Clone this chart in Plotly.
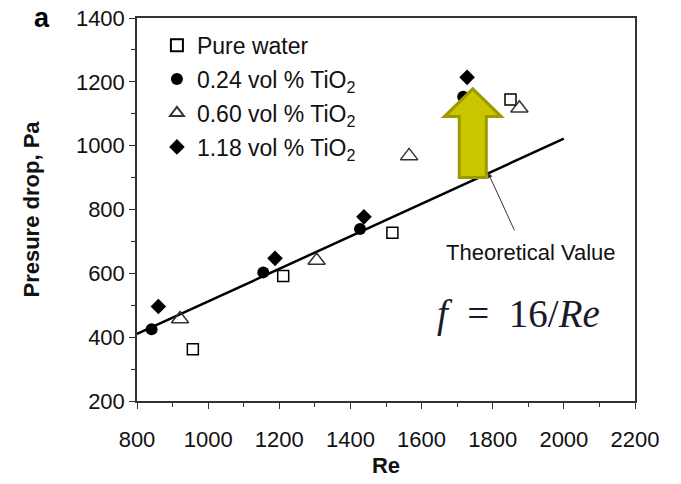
import plotly.graph_objects as go

# ---- data ----
re_water = [957, 1211, 1518, 1850]
dp_water = [362, 592, 727, 1145]

re_024 = [841, 1155, 1427, 1717]
dp_024 = [425, 603, 739, 1153]

re_060 = [921, 1305, 1565, 1875]
dp_060 = [457, 640, 968, 1117]

re_118 = [860, 1188, 1438, 1728]
dp_118 = [496, 647, 777, 1214]

theory_re = [800, 2000]
theory_dp = [410, 1022]

x_ticks = [800, 1000, 1200, 1400, 1600, 1800, 2000, 2200]
y_ticks = [200, 400, 600, 800, 1000, 1200, 1400]

SANS = "Liberation Sans, Arial, sans-serif"
SERIF = "Liberation Serif, Times New Roman, serif"
TXT = "#111111"

fig = go.Figure()

fig.add_trace(go.Scatter(
    x=theory_re, y=theory_dp, mode="lines", showlegend=False,
    line=dict(color="black", width=2.5), hoverinfo="skip"))

fig.add_trace(go.Scatter(
    x=re_water, y=dp_water, mode="markers", name="Pure water", legendgroup="a",
    marker=dict(symbol="square-open", size=11, color="black", line=dict(width=1.5))))
fig.add_trace(go.Scatter(
    x=re_024, y=dp_024, mode="markers", name="0.24 vol % TiO<sub>2</sub>", legendgroup="b",
    marker=dict(symbol="circle", size=12, color="black")))
fig.add_trace(go.Scatter(
    x=re_060, y=dp_060, mode="markers", name="0.60 vol % TiO<sub>2</sub>", legendgroup="c",
    marker=dict(symbol="triangle-up-open", size=15, color="#333333", line=dict(width=1.5))))
fig.add_trace(go.Scatter(
    x=re_118, y=dp_118, mode="markers", name="1.18 vol % TiO<sub>2</sub>", legendgroup="d",
    marker=dict(symbol="diamond", size=12, color="black")))

# big yellow arrow
cx = 1744
sh = 38
hh = 80
fig.add_shape(
    type="path", xref="x", yref="y", layer="above",
    path=(f"M {cx-sh},900 L {cx-sh},1091 L {cx-hh},1091 L {cx},1178 "
          f"L {cx+hh},1091 L {cx+sh},1091 L {cx+sh},900 Z"),
    fillcolor="#c9c600", line=dict(color="#9c9a00", width=3))

# Theoretical value annotation
fig.add_annotation(
    x=1787, y=915, ax=1863, ay=730, xref="x", yref="y", axref="x", ayref="y",
    text="", showarrow=True, arrowhead=2, arrowsize=1, arrowwidth=1,
    arrowcolor="#333333")
fig.add_annotation(
    x=1907, y=664, xref="x", yref="y", text="Theoretical Value",
    showarrow=False, font=dict(family=SANS, size=22, color=TXT))
fig.add_annotation(
    x=1873, y=472, xref="x", yref="y",
    text="<i>f</i>&nbsp;&nbsp;=&nbsp;&nbsp;16/<i>Re</i>",
    showarrow=False, font=dict(family=SERIF, size=39, color="#1a1a2a"))

# panel label
fig.add_annotation(
    x=-0.19, y=1.0, xref="paper", yref="paper", text="<b>a</b>",
    showarrow=False, font=dict(family=SANS, size=27, color="black"),
    xanchor="center", yanchor="middle")

axis_common = dict(
    showline=True, linecolor="#333333", linewidth=1.5, mirror=True,
    ticks="outside", ticklen=6, tickwidth=1.2, tickcolor="#333333",
    showgrid=False, zeroline=False,
    tickfont=dict(family=SANS, size=22, color=TXT),
)

fig.update_xaxes(
    range=[800, 2200], tickvals=x_ticks, ticktext=[str(v) for v in x_ticks],
    minor=dict(ticks="outside", ticklen=4, dtick=100, tickcolor="#333333", tickwidth=1.2),
    ticklabelstandoff=12,
    title=dict(text="<b>Re</b>", font=dict(family=SANS, size=22, color=TXT), standoff=6),
    **axis_common)
fig.update_yaxes(
    range=[200, 1400], tickvals=y_ticks, ticktext=[str(v) for v in y_ticks],
    minor=dict(ticks="outside", ticklen=4, dtick=100, tickcolor="#333333", tickwidth=1.2),
    title=dict(text="<b>Presure drop, Pa</b>", font=dict(family=SANS, size=22, color=TXT), standoff=30),
    **axis_common)

fig.update_layout(
    width=681, height=484,
    margin=dict(l=137, r=46, t=18, b=83, autoexpand=False),
    paper_bgcolor="white", plot_bgcolor="white",
    legend=dict(
        x=0.04, y=0.985, xanchor="left", yanchor="top",
        bgcolor="rgba(0,0,0,0)", borderwidth=0,
        font=dict(family=SANS, size=23, color=TXT),
        tracegroupgap=1, itemsizing="constant"),
)

fig.write_html("out.html")
